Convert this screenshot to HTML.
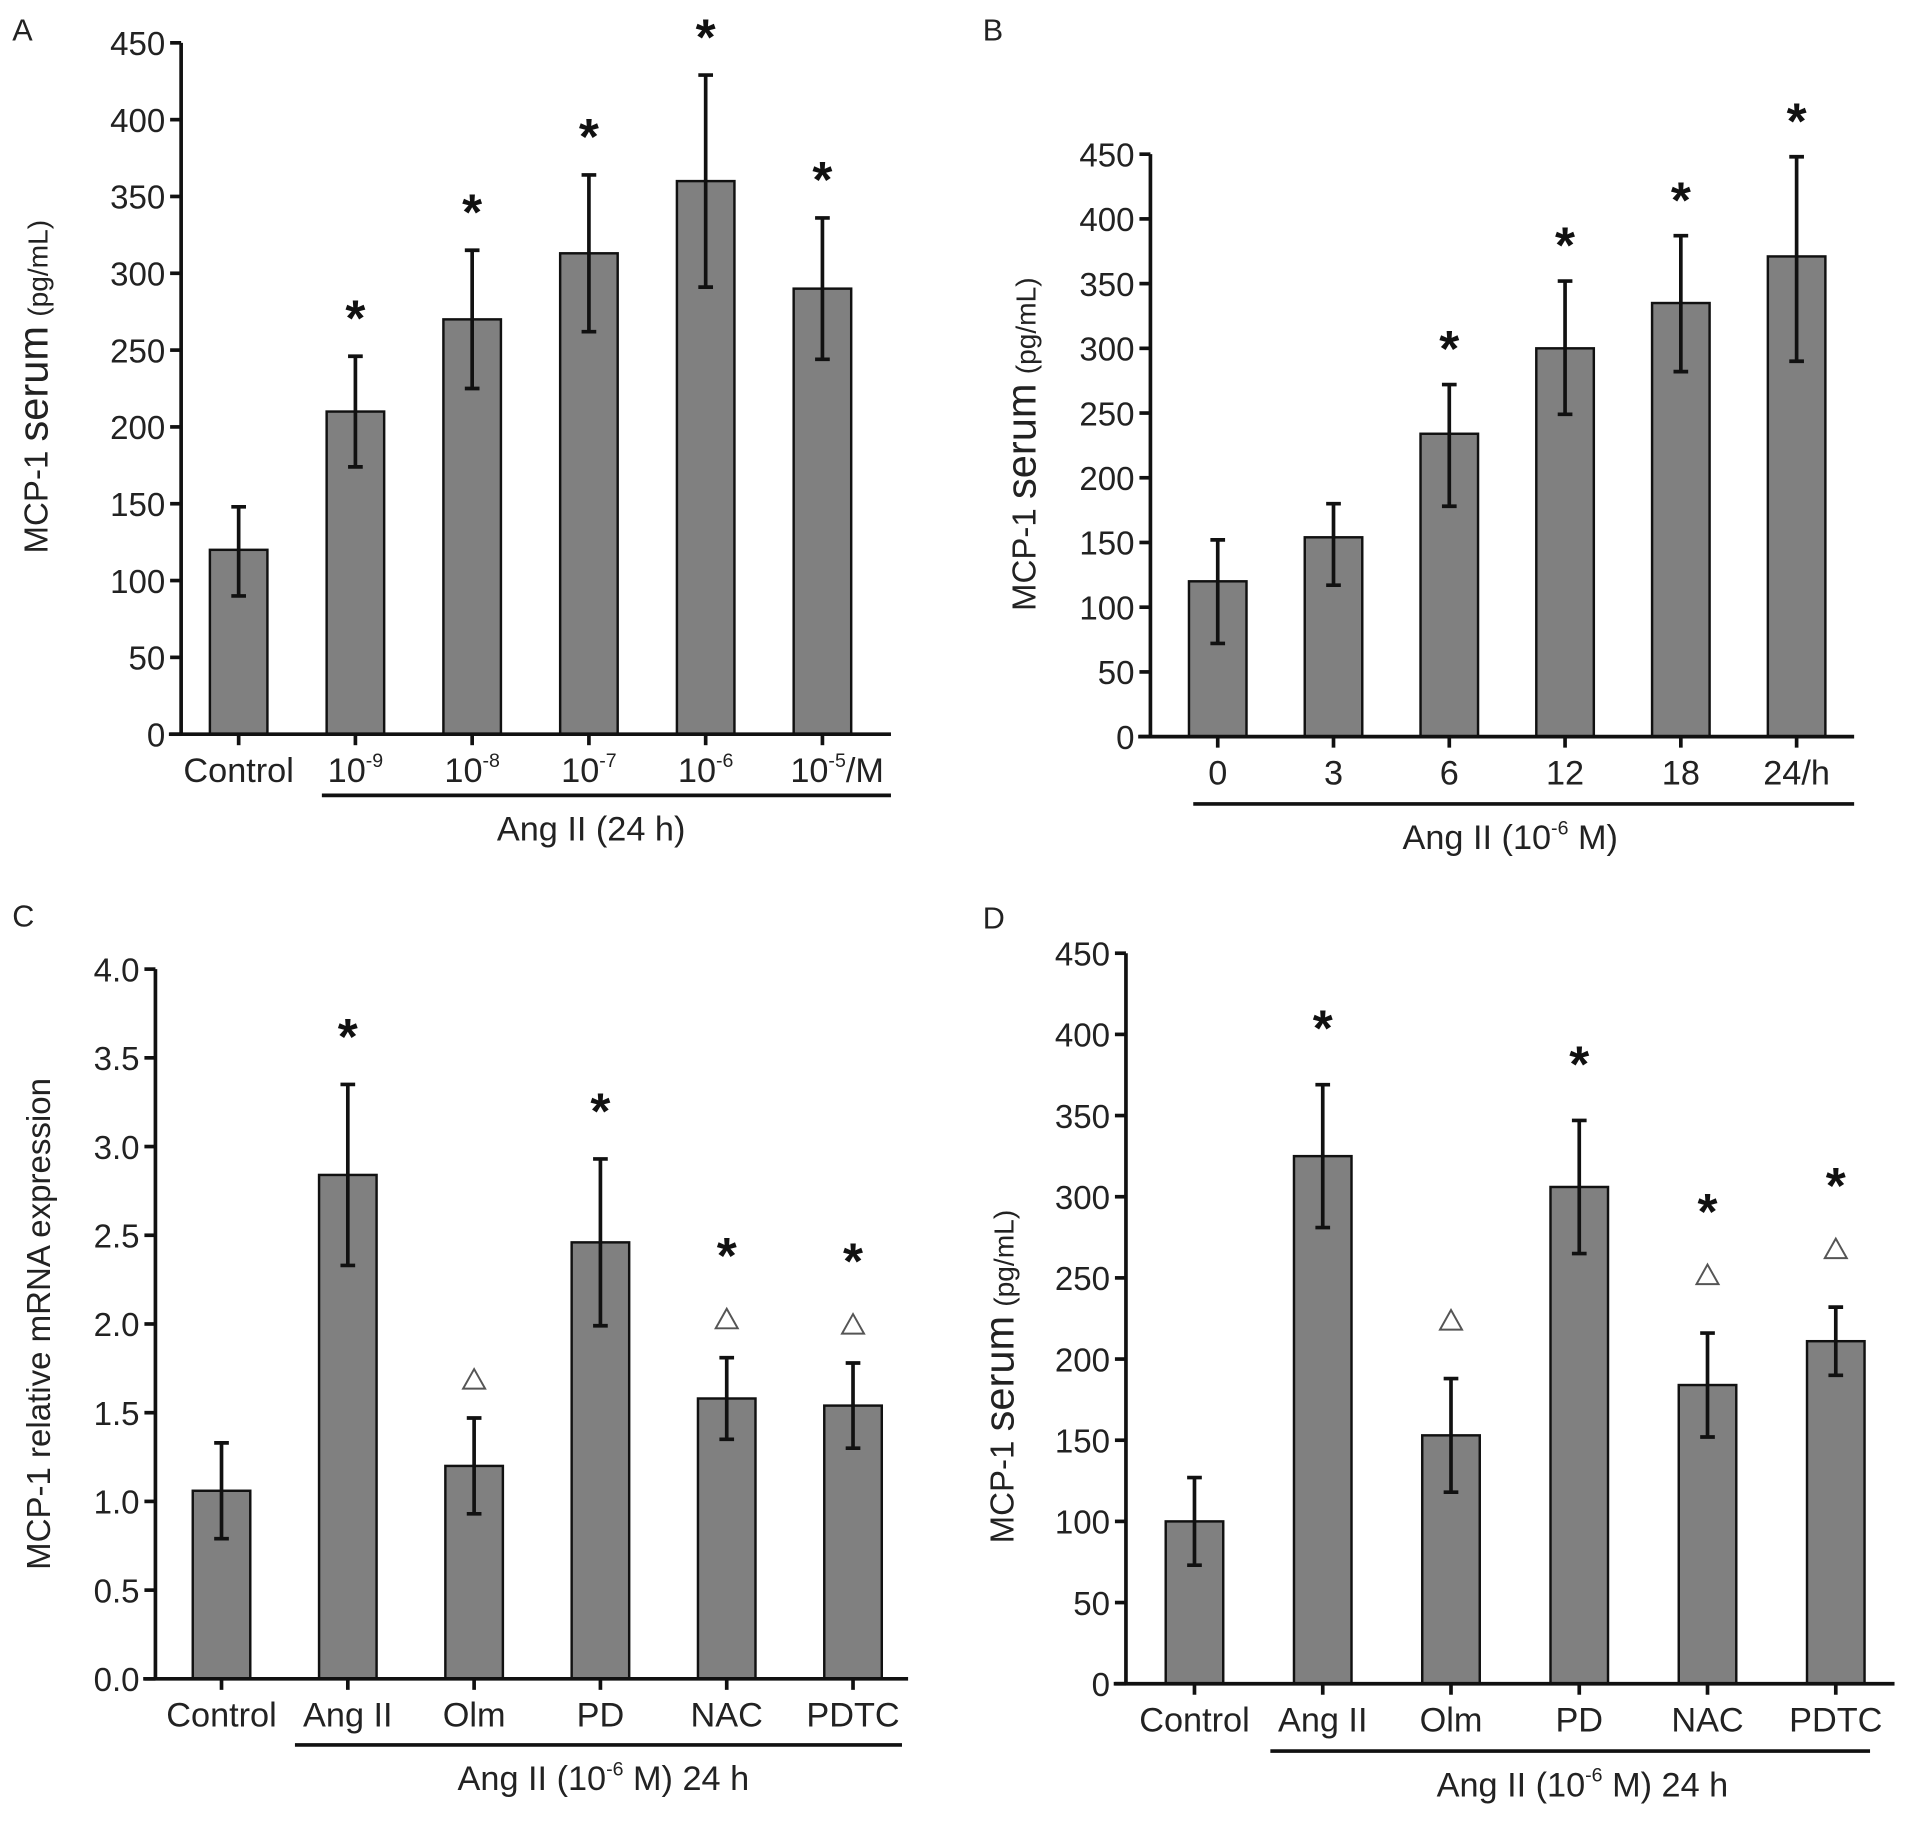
<!DOCTYPE html>
<html><head><meta charset="utf-8">
<style>
html,body{margin:0;padding:0;background:#fff;}
svg{display:block;font-family:"Liberation Sans",Arial,sans-serif;}
</style></head>
<body>
<svg id="fig" width="1919" height="1822" viewBox="0 0 1568 1489" preserveAspectRatio="none" xmlns="http://www.w3.org/2000/svg"></svg>
<script>
// Panel A
const catsA = ["Control","10|-9","10|-8","10|-7","10|-6","10|-5|/M"];
const valsA = [120,210,270,313,360,290];
const errLoA = [90,174,225,262,291,244];
const errHiA = [148,246,315,364,429,336];
const starA = [false,true,true,true,true,true];
const triA = [false,false,false,false,false,false];
const ticksA = [0,50,100,150,200,250,300,350,400,450];
// Panel B
const catsB = ["0","3","6","12","18","24/h"];
const valsB = [120,154,234,300,335,371];
const errLoB = [72,117,178,249,282,290];
const errHiB = [152,180,272,352,387,448];
const starB = [false,false,true,true,true,true];
const triB = [false,false,false,false,false,false];
const ticksB = [0,50,100,150,200,250,300,350,400,450];
// Panel C
const catsC = ["Control","Ang II","Olm","PD","NAC","PDTC"];
const valsC = [1.06,2.84,1.20,2.46,1.58,1.54];
const errLoC = [0.79,2.33,0.93,1.99,1.35,1.30];
const errHiC = [1.33,3.35,1.47,2.93,1.81,1.78];
const starC = [false,true,false,true,true,true];
const triC = [false,false,true,false,true,true];
const ticksC = ["0.0","0.5","1.0","1.5","2.0","2.5","3.0","3.5","4.0"];
// Panel D
const catsD = ["Control","Ang II","Olm","PD","NAC","PDTC"];
const valsD = [100,325,153,306,184,211];
const errLoD = [73,281,118,265,152,190];
const errHiD = [127,369,188,347,216,232];
const starD = [false,true,false,true,true,true];
const triD = [false,false,true,false,true,true];
const ticksD = [0,50,100,150,200,250,300,350,400,450];

const NS="http://www.w3.org/2000/svg";
const svg=document.getElementById('fig');
function mk(tag,attrs,parent){const e=document.createElementNS(NS,tag);for(const k in attrs)e.setAttribute(k,attrs[k]);(parent||svg).appendChild(e);return e;}

function panel(cfg){
  const g=mk('g',{});
  
  
  const ymax=cfg.ymax;
  const y=v=>cfg.y0-(v/ymax)*(cfg.y0-cfg.ytop);
  const x=i=>cfg.x0c+i*cfg.step;
  const L=mk('text',{x:cfg.lx,y:cfg.ly,'font-size':25,fill:'#222'},g);L.textContent=cfg.id;
  
  
  cfg.vals.forEach((v,i)=>{
    const b=mk('rect',{x:x(i)-23.5,y:y(v),width:47,height:cfg.y0-y(v),fill:'#808080',stroke:'#111','stroke-width':2},g);
    
    
    const lo=y(cfg.lo[i]),hi=y(cfg.hi[i]);
    const e=mk('path',{d:`M${x(i)},${lo}V${hi}M${x(i)-6},${hi}H${x(i)+6}M${x(i)-6},${lo}H${x(i)+6}`,stroke:'#111','stroke-width':3,fill:'none'},g);
    
    
    let starCy=hi-cfg.starGap;
    if(cfg.tri[i]){
      const cy=hi-cfg.triGap;
      const t=mk('path',{d:`M${x(i)},${cy-8}L${x(i)+9},${cy+8}L${x(i)-9},${cy+8}Z`,fill:'none',stroke:'#555','stroke-width':1.6},g);
      
      
      starCy=cy-60;
    }
    if(cfg.star[i]){
      const s=mk('text',{x:x(i),y:starCy+23,'font-size':42,'font-weight':'bold','text-anchor':'middle',fill:'#111'},g);
      s.textContent='*';
      
      
    }
    mk('line',{x1:x(i),x2:x(i),y1:cfg.y0,y2:cfg.y0+9,stroke:'#111','stroke-width':3},g);
    const c=mk('text',{x:x(i)+(cfg.labDx?cfg.labDx[i]:0),y:cfg.y0+39,'font-size':28,'text-anchor':'middle',fill:'#222'},g);
    const parts=cfg.cats[i].split('|');
    const t1=mk('tspan',{},c);t1.textContent=parts[0];
    if(parts.length>1){const t2=mk('tspan',{'font-size':16,dy:-12},c);t2.textContent=parts[1];}
    if(parts.length>2){const t3=mk('tspan',{dy:12},c);t3.textContent=parts[2];}
    
    
  });
  const ax=mk('path',{d:`M${cfg.x0},${cfg.ytop}V${cfg.y0}M${cfg.x0-10},${cfg.y0}H${cfg.xend}`,stroke:'#111','stroke-width':3,fill:'none'},g);
  
  
  cfg.ticks.forEach((t,k)=>{
    const v=parseFloat(t);const yy=y(v);
    mk('line',{x1:cfg.x0-9,x2:cfg.x0,y1:yy,y2:yy,stroke:'#111','stroke-width':3},g);
    const tl=mk('text',{x:cfg.x0-13,y:yy+10,'font-size':27,'text-anchor':'end',fill:'#222'},g);
    tl.textContent=t;
    
    
  });
  mk('line',{x1:cfg.ulx1,x2:cfg.ulx2,y1:cfg.uly,y2:cfg.uly,stroke:'#111','stroke-width':3},g);
  const gt=mk('text',{x:cfg.gtx,y:cfg.uly+37,'font-size':28,'text-anchor':'middle',fill:'#222'},g);
  gt.innerHTML=cfg.gtitle;
  
  
  const yl=mk('text',{x:0,y:0,'font-size':27,'text-anchor':'middle',fill:'#222',transform:`translate(${cfg.ylx},${cfg.yly}) rotate(-90)`},g);
  yl.innerHTML=cfg.ylabel;
  
  
}
const serumLbl='MCP-1 <tspan font-size="34">serum</tspan> <tspan font-size="23">(pg/mL)</tspan>';
const sup='<tspan font-size="16" dy="-12">-6</tspan><tspan dy="12">';
panel({id:'A',lx:10,ly:33,x0:148,y0:600,ytop:35,ymax:450,x0c:195,step:95.4,xend:728,
  cats:catsA,vals:valsA,lo:errLoA,hi:errHiA,star:starA,tri:triA,ticks:ticksA,triGap:30,starGap:40,
  labDx:[0,0,0,0,0,12],ulx1:263,ulx2:728,uly:650,gtx:483,gtitle:'Ang II (24 h)',ylx:39,yly:316,ylabel:serumLbl});
panel({id:'B',lx:803,ly:33,x0:940,y0:602,ytop:126,ymax:450,x0c:995,step:94.6,xend:1515,
  cats:catsB,vals:valsB,lo:errLoB,hi:errHiB,star:starB,tri:triB,ticks:ticksB,triGap:30,starGap:38,
  ulx1:975,ulx2:1515,uly:657,gtx:1234,gtitle:'Ang II (10'+sup+' M)</tspan>',ylx:846,yly:363,ylabel:serumLbl});
panel({id:'C',lx:10,ly:757,x0:127,y0:1372,ytop:792,ymax:4.0,x0c:181,step:103.2,xend:742,
  cats:catsC,vals:valsC,lo:errLoC,hi:errHiC,star:starC,tri:triC,ticks:ticksC,triGap:32,starGap:48,
  ulx1:241,ulx2:737,uly:1426,gtx:493,gtitle:'Ang II (10'+sup+' M) 24 h</tspan>',ylx:41,yly:1082,
  ylabel:'MCP-1 relative mRNA expression'});
panel({id:'D',lx:803,ly:759,x0:920,y0:1376,ytop:779,ymax:450,x0c:976,step:104.8,xend:1548,
  cats:catsD,vals:valsD,lo:errLoD,hi:errHiD,star:starD,tri:triD,ticks:ticksD,triGap:48,starGap:55,
  ulx1:1038,ulx2:1528,uly:1431,gtx:1293,gtitle:'Ang II (10'+sup+' M) 24 h</tspan>',ylx:828,yly:1125,ylabel:serumLbl});
</script>
</body></html>
